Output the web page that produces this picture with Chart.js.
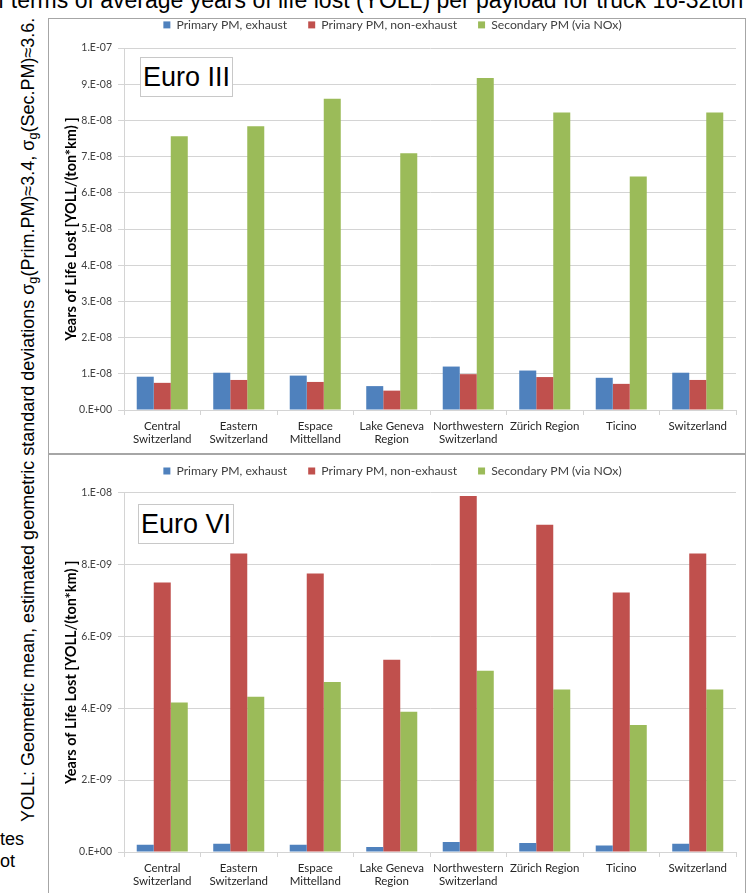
<!DOCTYPE html>
<html>
<head>
<meta charset="utf-8">
<script src="https://cdn.jsdelivr.net/npm/chart.js@4.4.0/dist/chart.umd.min.js"></script>
<style>
body { margin:0; width:747px; height:893px; overflow:hidden; background:#fff; position:relative; font-family:"Liberation Sans", Arial, sans-serif; color:#000; }
#titre { position:absolute; left:-2px; top:-11px; font-size:22px; white-space:nowrap; line-height:1; }
#note { position:absolute; left:19px; top:822px; transform-origin:0 0; transform:rotate(-90deg); font-size:18px; white-space:nowrap; line-height:1; }
#note sub { font-size:0.7em; vertical-align:-0.25em; }
#bas { position:absolute; left:0; top:828px; font-size:18px; line-height:22px; }
.cadre { position:absolute; left:48px; width:696px; border:1px solid #a6a6a6; background:#fff; overflow:hidden; }
#cadre1 { top:18px; height:434px; }
#cadre2 { top:454px; height:460px; }
.cadre canvas { position:absolute; left:0; top:0; }
.etiquette { position:absolute; border:1px solid #c8c8c8; background:#fff; font-size:27px; line-height:38px; padding:0 2px; white-space:nowrap; }
</style>
</head>
<body>
<div id="titre">f terms of average years of life lost (YOLL) per payload for truck 16-32ton</div>
<div id="note">YOLL: Geometric mean, estimated geometric standard deviations σ<sub>g</sub>(Prim.PM)≈3.4, σ<sub>g</sub>(Sec.PM)≈3.6.</div>
<div id="bas">tes<br>ot</div>

<div class="cadre" id="cadre1"><canvas id="graphe1" width="696" height="434"></canvas></div>
<div class="cadre" id="cadre2"><canvas id="graphe2" width="696" height="440"></canvas></div>
<div class="etiquette" style="left:140px; top:57px;">Euro III</div>
<div class="etiquette" style="left:138px; top:504px;">Euro VI</div>

<script>
// regions (x axis)
const regions = [["Central", "Switzerland"], ["Eastern", "Switzerland"], ["Espace", "Mittelland"],
    ["Lake Geneva", "Region"], ["Northwestern", "Switzerland"], "Zürich Region", "Ticino", "Switzerland"];
const nomsSeries = ["Primary PM, exhaust", "Primary PM, non-exhaust", "Secondary PM (via NOx)"];
const couleurs = ["#4F81BD", "#C0504D", "#9BBB59"];

// Euro III, YOLL per ton*km
const euro3Echappement = [9.2e-9, 1.03e-8, 9.5e-9, 6.6e-9, 1.20e-8, 1.09e-8, 8.9e-9, 1.03e-8];
const euro3HorsEchappement = [7.5e-9, 8.3e-9, 7.75e-9, 5.35e-9, 9.9e-9, 9.1e-9, 7.22e-9, 8.3e-9];
const euro3Secondaire = [7.56e-8, 7.84e-8, 8.60e-8, 7.09e-8, 9.17e-8, 8.22e-8, 6.45e-8, 8.22e-8];

// Euro VI
const euro6Echappement = [2.0e-10, 2.3e-10, 2.0e-10, 1.4e-10, 2.8e-10, 2.5e-10, 1.8e-10, 2.3e-10];
const euro6HorsEchappement = [7.5e-9, 8.3e-9, 7.75e-9, 5.35e-9, 9.9e-9, 9.1e-9, 7.22e-9, 8.3e-9];
const euro6Secondaire = [4.16e-9, 4.32e-9, 4.73e-9, 3.90e-9, 5.04e-9, 4.52e-9, 3.53e-9, 4.52e-9];

// format Excel "0.E+00"
function formatExcel(v) {
    if (Math.abs(v) < 1e-20) return "0.E+00";
    let exp = Math.floor(Math.log10(v) + 1e-9);
    let mant = Math.round(v / Math.pow(10, exp));
    if (mant >= 10) { mant = 1; exp++; }
    const e = Math.abs(exp);
    return mant + ".E" + (exp < 0 ? "-" : "+") + (e < 10 ? "0" + e : e);
}

// ajuste la taille de police pour que le texte fasse la largeur voulue
function ajusterTexte(id, largeur) {
    const el = document.getElementById(id);
    const taille = parseFloat(getComputedStyle(el).fontSize);
    el.style.fontSize = (taille * largeur / el.scrollWidth) + "px";
}
ajusterTexte("titre", 746);
ajusterTexte("note", 804);

Chart.defaults.font.family = "Lato, 'Open Sans', sans-serif";
Chart.defaults.animation = false;

// ajoute de l'espace sous la légende
function margeLegende(marge) {
    return {
        id: 'margeLegende',
        beforeInit(chart) {
            const fitOrig = chart.legend.fit;
            chart.legend.fit = function () {
                fitOrig.bind(chart.legend)();
                this.height += marge;
            };
        }
    };
}

// hautGraphe : haut de la zone de tracé, marge : espace légende / graphe
function creerGraphe(idCanvas, series, yMax, yPas, hautGraphe, marge) {
    const ctx = document.getElementById(idCanvas).getContext('2d');
    return new Chart(ctx, {
        type: 'bar',
        data: {
            labels: regions,
            datasets: series.map((valeurs, i) => ({
                label: nomsSeries[i],
                data: valeurs,
                backgroundColor: couleurs[i],
                categoryPercentage: 0.667,
                barPercentage: 1.0
            }))
        },
        plugins: [margeLegende(marge)],
        options: {
            responsive: false,
            animation: false,
            layout: { padding: { top: -40, right: 9, left: 0, bottom: 0 } },
            plugins: {
                legend: {
                    display: true,
                    position: 'top',
                    labels: {
                        boxWidth: 7,
                        boxHeight: 7,
                        padding: 21,
                        color: '#404040',
                        font: { size: 12.2 }
                    }
                },
                tooltip: { enabled: false }
            },
            scales: {
                x: {
                    grid: { offset: true, drawOnChartArea: false, drawTicks: true, tickLength: 5, color: '#d4d4d4' },
                    border: { color: '#d4d4d4' },
                    ticks: { color: '#262626', font: { size: 11.5, lineHeight: 1.2 }, padding: 4, maxRotation: 0, autoSkip: false },
                    afterFit: (scale) => { scale.height = 43; }
                },
                y: {
                    min: 0,
                    max: yMax,
                    grid: { color: '#d4d4d4', tickLength: 6 },
                    border: { color: '#d4d4d4' },
                    ticks: { stepSize: yPas, color: '#404040', padding: 6, font: { size: 10.5 }, callback: (v) => formatExcel(v) },
                    title: {
                        display: true,
                        text: 'Years of Life Lost [YOLL/(ton*km) ]',
                        color: '#000',
                        font: { size: 14.5, weight: 'bold' },
                        padding: { top: 14, bottom: 0 }
                    },
                    afterFit: (scale) => { scale.width = 75; scale.paddingTop = hautGraphe; }
                }
            }
        }
    });
}

creerGraphe('graphe1', [euro3Echappement, euro3HorsEchappement, euro3Secondaire], 1e-7, 1e-8, 29, 7);
creerGraphe('graphe2', [euro6Echappement, euro6HorsEchappement, euro6Secondaire], 1e-8, 2e-9, 37.5, 5.5);
</script>
</body>
</html>
